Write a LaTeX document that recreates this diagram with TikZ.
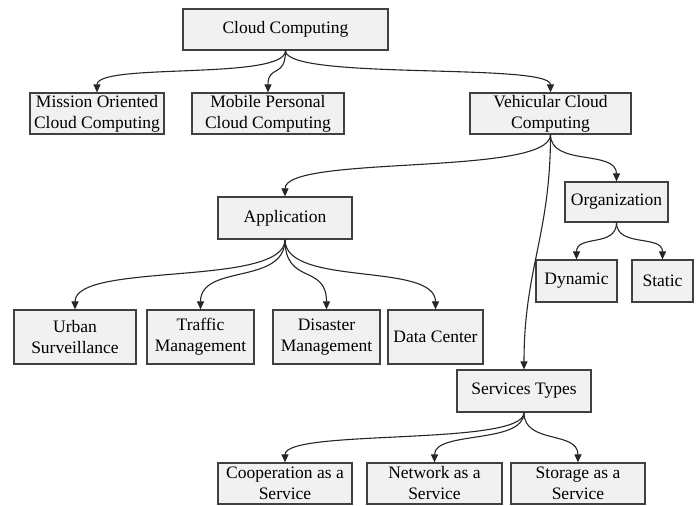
\documentclass[tikz,border=0pt]{standalone}
\usepackage{fontspec}
\setmainfont{Liberation Serif}
\usetikzlibrary{arrows.meta}
\definecolor{boxfill}{HTML}{F1F1F1}
\definecolor{boxline}{HTML}{404040}
\definecolor{edgeline}{HTML}{262626}
\newcommand\linkto[3]{\draw[edge] (#1.south) .. controls +(0,#3) and +(0,-#3) .. (#2.north);}
\begin{document}
\begin{tikzpicture}[x=1pt,y=-1pt,
  box/.style={draw=boxline, fill=boxfill, line width=1.2pt, inner sep=0pt, align=center,
    font=\fontsize{17.5}{21}\selectfont},
  edge/.style={draw=edgeline, line width=1.1pt, -{Triangle[length=8pt,width=7pt]}}]
\useasboundingbox (0,0) rectangle (699,506);
% level 0
\node[box, minimum width=205pt, minimum height=41pt] (cc) at (285.5,29.5) {Cloud Computing};
% level 1
\node[box, minimum width=134pt, minimum height=41pt] (moc) at (97,113.5) {Mission Oriented\\Cloud Computing};
\node[box, minimum width=152pt, minimum height=41pt] (mpc) at (268,113.5) {Mobile Personal\\Cloud Computing};
\node[box, minimum width=161pt, minimum height=41pt] (vcc) at (550.5,113.5) {Vehicular Cloud\\Computing};
% level 2
\node[box, minimum width=134pt, minimum height=42pt] (app) at (285,218) {Application};
\node[box, minimum width=103pt, minimum height=40pt] (org) at (616.5,202) {Organization};
\node[box, minimum width=81pt, minimum height=42pt] (dyn) at (576.5,281) {Dynamic};
\node[box, minimum width=61pt, minimum height=42pt] (sta) at (662.5,281) {Static};
% applications
\node[box, minimum width=122pt, minimum height=54pt] (urb) at (75,337) {Urban\\Surveillance};
\node[box, minimum width=107pt, minimum height=54pt] (tra) at (200.5,337) {Traffic\\Management};
\node[box, minimum width=107pt, minimum height=54pt] (dis) at (326.5,337) {Disaster\\Management};
\node[box, minimum width=95pt, minimum height=54pt] (dat) at (435.5,337) {Data Center};
% services
\node[box, minimum width=134pt, minimum height=42pt] (svc) at (524,391) {Services Types};
\node[box, minimum width=134pt, minimum height=41pt] (coo) at (285,483.5) {Cooperation as a\\Service};
\node[box, minimum width=135pt, minimum height=41pt] (net) at (434.5,483.5) {Network as a\\Service};
\node[box, minimum width=134pt, minimum height=41pt] (sto) at (578,483.5) {Storage as a\\Service};
% edges
\linkto{cc}{moc}{30}
\linkto{cc}{mpc}{28}
\linkto{cc}{vcc}{30}
\linkto{vcc}{app}{42}
\linkto{vcc}{org}{32}
\linkto{vcc}{svc}{100}
\linkto{org}{dyn}{25}
\linkto{org}{sta}{25}
\linkto{app}{urb}{48}
\linkto{app}{tra}{46}
\linkto{app}{dis}{46}
\linkto{app}{dat}{48}
\linkto{svc}{coo}{34}
\linkto{svc}{net}{32}
\linkto{svc}{sto}{32}
\end{tikzpicture}
\end{document}
